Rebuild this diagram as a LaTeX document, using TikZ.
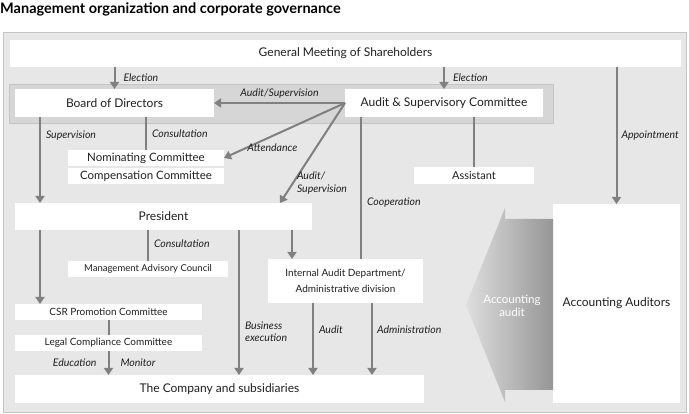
\documentclass[tikz,border=0pt]{standalone}
\usepackage{fontspec}
\setmainfont{Lato}
\usetikzlibrary{arrows.meta, calc}

\definecolor{panel}{RGB}{231,231,231}
\definecolor{band}{RGB}{214,214,214}
\definecolor{bandline}{RGB}{196,196,196}
\definecolor{linegray}{RGB}{128,128,128}
\definecolor{shadeleft}{RGB}{222,222,222}
\definecolor{shaderight}{RGB}{150,150,150}
\definecolor{ink}{RGB}{35,31,32}

\begin{document}
\begin{tikzpicture}[
    x=1pt, y=-1pt,
    box/.style={rectangle, fill=white, anchor=north west, inner sep=0pt, outer sep=0pt, text=ink, align=center, font=\fontsize{12}{14}\selectfont},
    smallbox/.style={box, font=\fontsize{10}{16}\selectfont},
    arrow/.style={-{Triangle[width=9pt,length=7pt]}, line width=2pt, draw=linegray},
    link/.style={line width=2pt, draw=linegray},
    lab/.style={font=\fontsize{10.5}{12.5}\itshape\selectfont, text=ink, inner sep=0pt, align=left}
]
\useasboundingbox (0,0) rectangle (689,414);

% title and panels
\node[anchor=west, inner sep=0pt, font=\fontsize{14.5}{16}\selectfont\bfseries, text=black] (title) at (0,9) {Management organization and corporate governance};
\draw[fill=panel, draw=bandline] (3,32) rectangle (686,412);
\draw[fill=band, draw=bandline] (9,84) rectangle (553,123);

% boxes
\node[box, minimum width=671pt, minimum height=27pt] (gms) at (10,40) {General Meeting of Shareholders};
\node[box, minimum width=199pt, minimum height=28pt] (bod) at (15,89) {Board of Directors};
\node[box, minimum width=198pt, minimum height=28pt] (asc) at (345,89) {Audit \& Supervisory Committee};
\node[smallbox, font=\fontsize{11.5}{13}\selectfont, minimum width=156pt, minimum height=16pt] (nom) at (68,150) {Nominating Committee};
\node[smallbox, font=\fontsize{11.5}{13}\selectfont, minimum width=156pt, minimum height=16pt] (comp) at (68,168) {Compensation Committee};
\node[smallbox, font=\fontsize{11}{13}\selectfont, minimum width=120pt, minimum height=17pt] (asst) at (414,167) {Assistant};
\node[box, minimum width=297pt, minimum height=27pt] (pres) at (15,203) {President};
\node[smallbox, font=\fontsize{9.5}{12}\selectfont, minimum width=160pt, minimum height=16pt] (mac) at (68,261) {Management Advisory Council};
\node[smallbox, minimum width=155pt, minimum height=44pt] (iad) at (268,259) {Internal Audit Department/\\Administrative division};
\node[smallbox, minimum width=187pt, minimum height=16pt] (csr) at (15,304) {CSR Promotion Committee};
\node[smallbox, minimum width=187pt, minimum height=16pt] (lcc) at (15,335) {Legal Compliance Committee};
\node[box, minimum width=409pt, minimum height=28pt] (corp) at (15,375) {The Company and subsidiaries};
\node[box, minimum width=127pt, minimum height=199pt] (aa) at (553,204) {Accounting Auditors};

% accounting audit arrow
\shade[left color=shadeleft, right color=shaderight] (466,305) -- (505,208) -- (505,219) -- (aa.north west |- 0,219) -- (aa.south west |- 0,390) -- (505,390) -- (505,402) -- cycle;
\node[font=\fontsize{11.5}{13}\selectfont, text=white, align=center] (audit) at (512,306) {Accounting\\audit};

% connectors
\draw[arrow] (gms.south -| bod.north) -- node[lab, right=8pt] {Election} (bod.north);
\draw[arrow] (gms.south -| asc.north) -- node[lab, right=8pt] {Election} (asc.north);
\draw[arrow] (aa.north |- gms.south) -- node[lab, right=4pt] {Appointment} (aa.north);
\draw[arrow] (asc.west) -- node[lab, above=4pt] {Audit/Supervision} (bod.east);
\draw[arrow] (asc.west) -- node[lab, pos=0.6, below=7pt] {Attendance} (nom.east);
\draw[arrow] (asc.west) -- node[lab, pos=0.8, right=3pt] {Audit/\\Supervision} ([xshift=-32pt]pres.north east);
\draw[link] (nom.north |- bod.south) -- node[lab, right=5pt] {Consultation} (nom.north);
\draw[arrow] ([xshift=25pt]bod.south west) -- node[lab, pos=0.22, right=5pt] {Supervision} ([xshift=25pt]pres.north west);
\draw[link] (asst.north |- asc.south) -- (asst.north);
\draw[link] ([xshift=16pt]asc.south west) -- node[lab, pos=0.6, right=5pt] {Cooperation} ([xshift=16pt]asc.south west |- iad.north);
\draw[link] (mac.north |- pres.south) -- node[lab, pos=0.45, right=5pt] {Consultation} (mac.north);
\draw[arrow] ([xshift=25pt]pres.south west) -- ([xshift=25pt]csr.north west);
\draw[arrow] ([xshift=24pt]iad.north west |- pres.south) -- ([xshift=24pt]iad.north west);
\draw[arrow] ([xshift=224pt]pres.south west) -- node[lab, pos=0.7, right=5pt] {Business\\execution} ([xshift=224pt]corp.north west);
\draw[link] (csr.south) -- (lcc.north);
\draw[arrow] (lcc.south) -- node[lab, left=11pt] {Education} node[lab, right=11pt] {Monitor} (lcc.south |- corp.north);
\draw[arrow] ([xshift=45pt]iad.south west) -- node[lab, pos=0.37, right=5pt] {Audit} ([xshift=45pt]iad.south west |- corp.north);
\draw[arrow] ([xshift=104pt]iad.south west) -- node[lab, pos=0.37, right=4pt] {Administration} ([xshift=104pt]iad.south west |- corp.north);

\end{tikzpicture}
\end{document}
